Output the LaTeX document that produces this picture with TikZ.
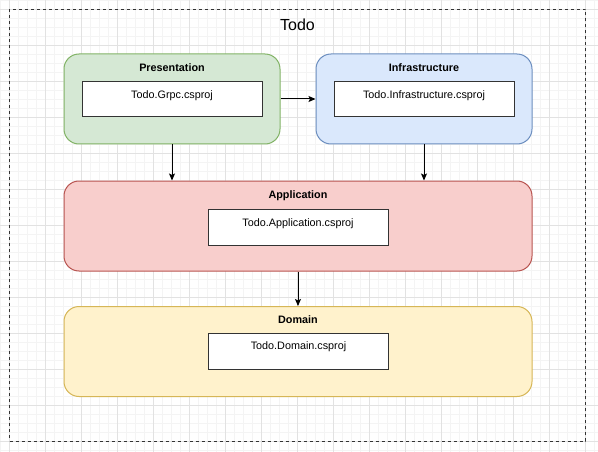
\documentclass[tikz,border=0pt]{standalone}
\usepackage{fontspec}
\setmainfont{Liberation Sans}
\usetikzlibrary{arrows.meta}
\definecolor{gridminor}{HTML}{F4F4F4}
\definecolor{gridmajor}{HTML}{E2E2E2}
\definecolor{greenfill}{HTML}{D5E8D4}
\definecolor{greenline}{HTML}{82B366}
\definecolor{bluefill}{HTML}{DAE8FC}
\definecolor{blueline}{HTML}{6C8EBF}
\definecolor{redfill}{HTML}{F8CECC}
\definecolor{redline}{HTML}{B85450}
\definecolor{yellowfill}{HTML}{FFF2CC}
\definecolor{yellowline}{HTML}{D6B656}
\definecolor{innerline}{HTML}{333333}
\tikzset{
  layer/.style={rounded corners=15pt, line width=1pt, minimum width=216pt, minimum height=90pt, inner sep=0pt},
  wide/.style={layer, minimum width=468pt},
  proj/.style={draw=innerline, fill=white, line width=1pt, minimum width=180pt, minimum height=35pt, inner sep=0pt},
  ttl/.style={anchor=base, font=\fontsize{10.8}{13}\selectfont\bfseries, inner sep=0pt},
  ptxt/.style={anchor=base, font=\fontsize{10.8}{13}\selectfont, inner sep=0pt},
  arr/.style={-{Stealth[length=7pt,width=6pt,inset=1.5pt]}, line width=1pt, black}
}
\begin{document}
\begin{tikzpicture}[x=1pt,y=-1pt]
\useasboundingbox (0,0) rectangle (598,452);
\fill[white] (0,0) rectangle (598,452);
% grid
\foreach \i in {0,...,66} \draw[gridminor,line width=0.8pt] ({0.3+9*\i},0) -- ++(0,452);
\foreach \i in {0,...,50} \draw[gridminor,line width=0.8pt] (0,{0.3+9*\i}) -- ++(598,0);
\foreach \i in {0,...,16} \draw[gridmajor,line width=1pt] ({9.3+36*\i},0) -- ++(0,452);
\foreach \i in {0,...,12} \draw[gridmajor,line width=1pt] (0,{9.3+36*\i}) -- ++(598,0);
% frame
\node[draw=black!80, dash pattern=on 3pt off 3pt, line width=1pt, minimum width=576pt, minimum height=432pt, inner sep=0pt] (todo) at (297.5,225.3) {};
\node[anchor=base, font=\fontsize{16}{19}\selectfont, inner sep=0pt] (todottl) at (297.5,30.5) {Todo};
% layers
\node[layer, draw=greenline, fill=greenfill] (pres) at (172,99) {};
\node[layer, draw=blueline, fill=bluefill] (infra) at (424,99) {};
\node[wide, draw=redline, fill=redfill] (app) at (298,226) {};
\node[wide, draw=yellowline, fill=yellowfill] (dom) at (298,351.5) {};
% titles
\node[ttl] (prest) at (172,72) {Presentation};
\node[ttl] (infrat) at (424,72) {Infrastructure};
\node[ttl] (appt) at (298,198) {Application};
\node[ttl] (domt) at (298,323.3) {Domain};
% projects
\node[proj] (grpc) at (172,99.5) {};
\node[proj] (infrap) at (424,99.5) {};
\node[proj, minimum height=36pt] (appp) at (298,227) {};
\node[proj, minimum height=36pt] (domp) at (298.5,351) {};
\node[ptxt] (grpct) at (172,98.5) {Todo.Grpc.csproj};
\node[ptxt] (infrapt) at (424,98.5) {Todo.Infrastructure.csproj};
\node[ptxt] (apppt) at (298,226.5) {Todo.Application.csproj};
\node[ptxt] (dompt) at (298.5,349.3) {Todo.Domain.csproj};
% arrows
\draw[arr] (pres.east) -- (infra.west);
\draw[arr] (pres.south) -- (pres.south |- app.north);
\draw[arr] (infra.south) -- (infra.south |- app.north);
\draw[arr] (app.south) -- (dom.north);
\end{tikzpicture}
\end{document}
